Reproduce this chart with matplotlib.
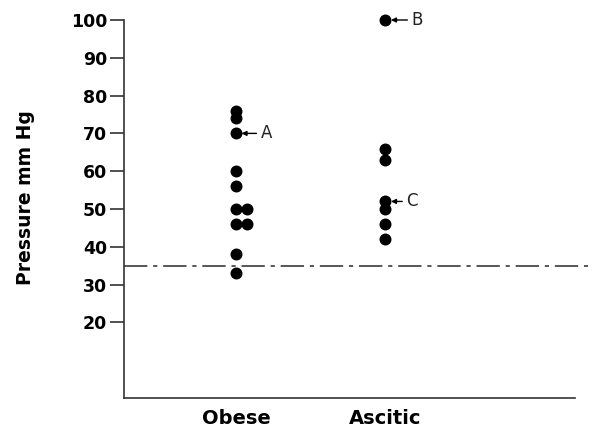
import matplotlib
matplotlib.use('Agg')
import matplotlib.pyplot as plt

# data
groups = ['Obese', 'Ascitic']
obese = [76, 74, 70, 60, 56, 50, 50, 46, 46, 38, 33]
obese_off = [0, 0, 0, 0, 0, 0, 1, 0, 1, 0, 0]   # side-by-side dots
ascitic = [100, 66, 63, 52, 50, 46, 42]
ascitic_off = [0, 0, 0, 0, 0, 0, 0]
normal_limit = 35
yticks = [20, 30, 40, 50, 60, 70, 80, 90, 100]
notes = [('A', 1, 70, 1.165), ('B', 2, 100, 2.175), ('C', 2, 52, 2.14)]

plt.rcParams['font.family'] = ['DejaVu Sans']

fig = plt.figure(figsize=(5.95, 4.29), dpi=100)
ax = fig.add_axes([124/595, 1 - 398/429, 451/595, 378/429])

dx = 0.074
for i, (vals, offs) in enumerate([(obese, obese_off), (ascitic, ascitic_off)]):
    xs = [i + 1 + o*dx for o in offs]
    ax.plot(xs, vals, 'o', color='black', markersize=7.6, clip_on=False, zorder=3)

ax.axhline(normal_limit, xmin=0, xmax=1.029, color='#3a3a3a', lw=1.2,
           dashes=(14, 3.5, 2.5, 3.5), clip_on=False)

for lab, x, y, tx in notes:
    ax.annotate(lab, xy=(x, y), xytext=(tx, y), ha='left', va='center',
                fontsize=12, color='#222222',
                arrowprops=dict(arrowstyle='-|>', lw=1, color='black',
                                mutation_scale=7, shrinkA=1, shrinkB=4))

ax.set_xlim(0.251, 3.268)
ax.set_ylim(0, 100)
ax.set_xticks([1, 2])
ax.set_xticklabels(groups, fontsize=14, fontweight='bold')
ax.tick_params(axis='x', length=0, pad=8)
ax.set_yticks(yticks)
ax.set_yticklabels([str(t) for t in yticks], fontsize=12.5, fontweight='bold')
ax.tick_params(axis='y', length=10, width=1.2, pad=2, color='#333333')

for s in ['top', 'right']:
    ax.spines[s].set_visible(False)
for s in ['left', 'bottom']:
    ax.spines[s].set_linewidth(1.2)
    ax.spines[s].set_color('#333333')

ax.set_ylabel('Pressure mm Hg', fontsize=13.5, fontweight='bold')
ax.yaxis.set_label_coords(-0.198, 0.529)

fig.savefig('out.png', dpi=100)
